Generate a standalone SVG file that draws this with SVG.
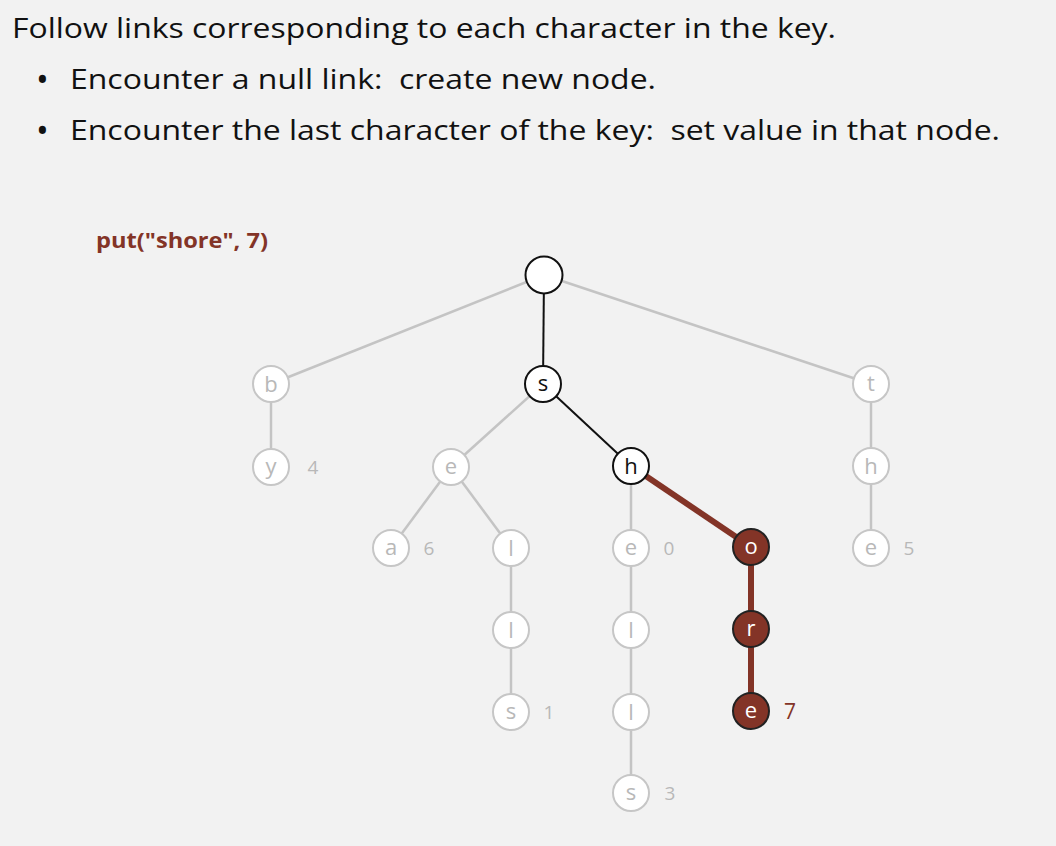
<svg xmlns="http://www.w3.org/2000/svg" width="1056" height="846" viewBox="0 0 1056 846">
<style>
.t{font-family:"Open Sans","DejaVu Sans",sans-serif;font-size:28px;fill:#111}
.b{font-family:"Open Sans","DejaVu Sans",sans-serif;font-size:34px;fill:#111}
.put{font-family:"Open Sans","DejaVu Sans",sans-serif;font-size:22px;font-weight:bold;fill:#833427}
.g circle{fill:#fff;stroke:#c6c6c6;stroke-width:2}
.g text{font-family:"Open Sans","DejaVu Sans",sans-serif;font-size:22px;fill:#b8b8b8;text-anchor:middle}
.k circle{fill:#fff;stroke:#111;stroke-width:2}
.k text{font-family:"Open Sans","DejaVu Sans",sans-serif;font-size:22px;fill:#111;text-anchor:middle}
.r circle{fill:#833427;stroke:#222;stroke-width:2}
.r text{font-family:"Open Sans","DejaVu Sans",sans-serif;font-size:22px;fill:#fff;text-anchor:middle}
.g text.v{font-size:19px}
.vr{font-family:"Open Sans","DejaVu Sans",sans-serif;font-size:21px;fill:#833427}
.eg{stroke:#c4c4c4;stroke-width:2.5;fill:none}
.ek{stroke:#111;stroke-width:2;fill:none}
.er{stroke:#833427;stroke-width:6;fill:none}
</style>
<rect width="1056" height="846" fill="#f2f2f2"/>
<text class="t" x="12" y="38" textLength="824" lengthAdjust="spacingAndGlyphs">Follow links corresponding to each character in the key.</text>
<text class="b" x="36" y="92">•</text>
<text class="t" x="70" y="89" textLength="586" lengthAdjust="spacingAndGlyphs" xml:space="preserve">Encounter a null link:  create new node.</text>
<text class="b" x="36" y="143">•</text>
<text class="t" x="70" y="140" textLength="930" lengthAdjust="spacingAndGlyphs" xml:space="preserve">Encounter the last character of the key:  set value in that node.</text>
<text class="put" x="96" y="248" textLength="172" lengthAdjust="spacingAndGlyphs">put("shore", 7)</text>
<g id="connectors">
<line class="eg" x1="544" y1="275" x2="271" y2="384"/>
<line class="eg" x1="544" y1="275" x2="871" y2="384"/>
<line class="eg" x1="271" y1="384" x2="271" y2="467"/>
<line class="eg" x1="543" y1="384" x2="451" y2="467"/>
<line class="eg" x1="451" y1="467" x2="391" y2="548"/>
<line class="eg" x1="451" y1="467" x2="511" y2="548"/>
<line class="eg" x1="511" y1="548" x2="511" y2="712"/>
<line class="eg" x1="631" y1="466" x2="631" y2="793"/>
<line class="eg" x1="871" y1="384" x2="871" y2="548"/>
<line class="ek" x1="544" y1="275" x2="543" y2="384"/>
<line class="ek" x1="543" y1="384" x2="631" y2="466"/>
<line class="er" x1="631" y1="466" x2="751" y2="547"/>
<line class="er" x1="751" y1="547" x2="751" y2="711"/>
</g>
<g id="root" class="k"><circle cx="544" cy="275" r="18.5"/></g>
<g id="n-b" class="g"><circle cx="271" cy="384" r="18"/><text x="271" y="392">b</text></g>
<g id="n-s" class="k"><circle cx="543" cy="384" r="18"/><text x="543" y="391">s</text></g>
<g id="n-t" class="g"><circle cx="871" cy="384" r="18"/><text x="871" y="391">t</text></g>
<g id="n-by" class="g"><circle cx="271" cy="467" r="18"/><text x="271" y="474">y</text><text class="v" x="313" y="474">4</text></g>
<g id="n-se" class="g"><circle cx="451" cy="467" r="18"/><text x="451" y="474">e</text></g>
<g id="n-sh" class="k"><circle cx="631" cy="466" r="18"/><text x="631" y="474">h</text></g>
<g id="n-th" class="g"><circle cx="871" cy="466" r="18"/><text x="871" y="474">h</text></g>
<g id="n-sea" class="g"><circle cx="391" cy="548" r="18"/><text x="391" y="555">a</text><text class="v" x="429" y="555">6</text></g>
<g id="n-sel" class="g"><circle cx="511" cy="548" r="18"/><text x="511" y="556">l</text></g>
<g id="n-she" class="g"><circle cx="631" cy="548" r="18"/><text x="631" y="555">e</text><text class="v" x="669" y="555">0</text></g>
<g id="n-sho" class="r"><circle cx="751" cy="547" r="18"/><text x="751" y="554">o</text></g>
<g id="n-the" class="g"><circle cx="871" cy="548" r="18"/><text x="871" y="555">e</text><text class="v" x="909" y="555">5</text></g>
<g id="n-sell" class="g"><circle cx="511" cy="630" r="18"/><text x="511" y="638">l</text></g>
<g id="n-shel" class="g"><circle cx="631" cy="630" r="18"/><text x="631" y="638">l</text></g>
<g id="n-shor" class="r"><circle cx="751" cy="629" r="18"/><text x="751" y="636">r</text></g>
<g id="n-sells" class="g"><circle cx="511" cy="712" r="18"/><text x="511" y="719">s</text><text class="v" x="549" y="719">1</text></g>
<g id="n-shell" class="g"><circle cx="631" cy="712" r="18"/><text x="631" y="720">l</text></g>
<g id="n-shore" class="r"><circle cx="751" cy="711" r="18"/><text x="751" y="718">e</text></g>
<text class="vr" x="784" y="719">7</text>
<g id="n-shells" class="g"><circle cx="631" cy="793" r="18"/><text x="631" y="800">s</text><text class="v" x="670" y="800">3</text></g>
</svg>
